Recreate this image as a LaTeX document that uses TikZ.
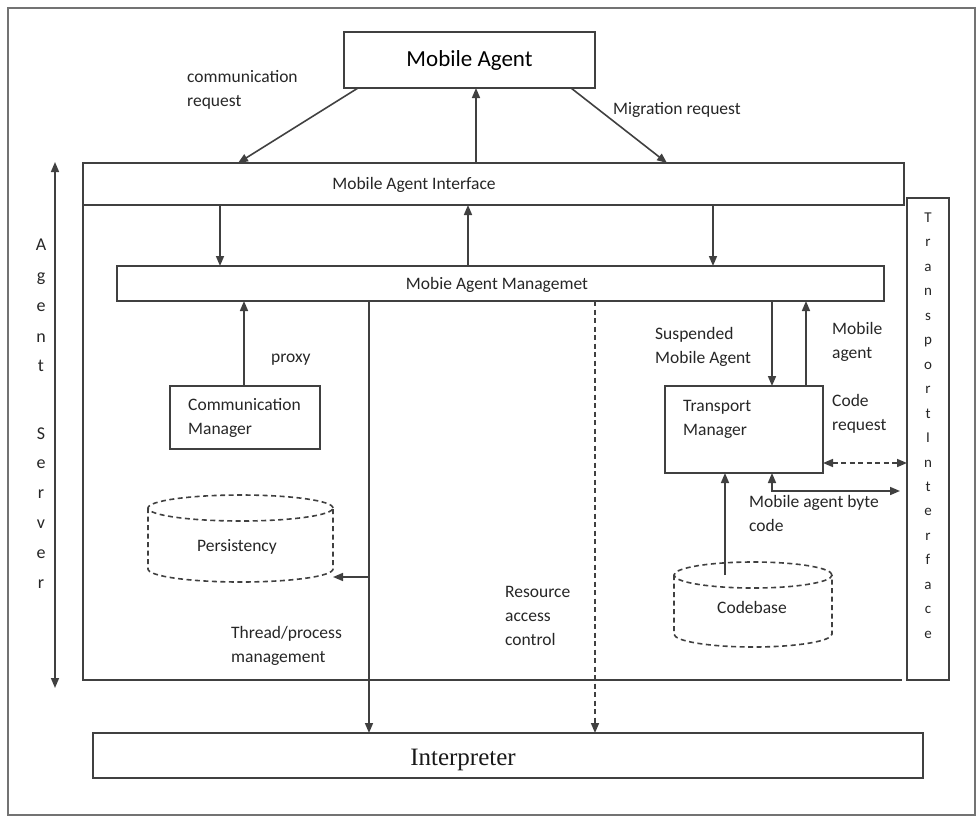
\documentclass[tikz,border=0pt]{standalone}
\usepackage{fontspec}
\setmainfont{Carlito}
\newfontfamily\interpfont{Liberation Serif}
\usetikzlibrary{arrows.meta}
\begin{document}
\begin{tikzpicture}[x=1pt,y=-1pt,
  line/.style={draw=black!75, line width=1.6pt},
  box/.style={line, rectangle, inner sep=0pt, outer sep=0pt},
  ghost/.style={rectangle, inner sep=0pt, outer sep=0pt},
  arr/.style={line, -{Triangle[length=10pt,width=8pt]}},
  darr/.style={line, {Triangle[length=10pt,width=8pt]}-{Triangle[length=10pt,width=8pt]}},
  dashline/.style={dash pattern=on 5pt off 3.5pt},
  lbl/.style={font=\fontsize{17.5}{24}\selectfont, text=black!85, align=left, inner sep=0pt, anchor=west},
  barlbl/.style={font=\fontsize{17.5}{24}\selectfont, text=black!85, inner sep=0pt},
  letter/.style={font=\fontsize{18}{18}\selectfont, text=black!85, inner sep=0pt, anchor=base},
  tletter/.style={font=\fontsize{15}{15}\selectfont, text=black!85, inner sep=0pt, anchor=base},
]
\useasboundingbox (0,0) rectangle (976,817);
% outer frame
\draw[draw=black!55, line width=1.6pt] (8,8) rectangle (975,815);

% main blocks
\node[box, minimum width=251, minimum height=56] (ma) at (469.5,60)
  {\fontsize{23}{28}\selectfont Mobile Agent};
\node[box, minimum width=821, minimum height=42] (iface) at (493.5,184) {};
\node[barlbl] (ifacetxt) at (414,185) {Mobile Agent Interface};
\node[box, minimum width=767, minimum height=35] (mgmt) at (500.5,283.5) {};
\node[barlbl] (mgmttxt) at (497,285) {Mobie Agent Managemet};
\node[box, minimum width=150, minimum height=63] (cm) at (245,417.5) {};
\node[lbl] (cmtxt) at (188,418) {Communication\\Manager};
\node[box, minimum width=158, minimum height=87] (tm) at (744,429.5) {};
\node[lbl] (tmtxt) at (683,419.5) {Transport\\Manager};
\node[box, minimum width=42, minimum height=482] (tif) at (928,439) {};
\node[box, minimum width=830, minimum height=45] (interp) at (508,755.5) {};
\node[inner sep=0pt, text=black!90] (interptxt) at (463,760)
  {\interpfont\fontsize{25}{30}\selectfont Interpreter};

% agent server frame below the interface bar
\coordinate (asbl) at (83,680);
\coordinate (asbr) at (902,680);
\draw[line] (iface.south west) -- (asbl) -- (asbr);

% storage cylinders
\node[ghost, minimum width=185, minimum height=74] (pers) at (240.5,545) {};
\node[inner sep=0pt, font=\fontsize{17.5}{24}\selectfont, text=black!85] (perstxt) at (237,547) {Persistency};
\draw[line, dashline] (240.5,508) ellipse [x radius=92.5pt, y radius=13pt];
\draw[line, dashline] (148,508) -- (148,569)
  arc[start angle=180, end angle=360, x radius=92.5pt, y radius=13pt] -- (333,508);

\node[ghost, minimum width=158, minimum height=72] (cb) at (753,611) {};
\node[inner sep=0pt, font=\fontsize{17.5}{24}\selectfont, text=black!85] (cbtxt) at (752,607) {Codebase};
\draw[line, dashline] (753,575) ellipse [x radius=79pt, y radius=13pt];
\draw[line, dashline] (674,575) -- (674,634)
  arc[start angle=180, end angle=360, x radius=79pt, y radius=13pt] -- (832,575);

% reference columns
\coordinate (c1) at (358,0);
\coordinate (c2) at (238,0);
\coordinate (c3) at (476,0);
\coordinate (c4) at (571,0);
\coordinate (c5) at (667,0);
\coordinate (d1) at (220,0);
\coordinate (d2) at (468,0);
\coordinate (d3) at (713,0);
\coordinate (px) at (244,0);
\coordinate (thx) at (369,0);
\coordinate (rx) at (595,0);
\coordinate (sx) at (772,0);
\coordinate (mx) at (806,0);
\coordinate (cbx) at (725,0);
\coordinate (thr) at (369,577);
\coordinate (creq) at (0,463);
\coordinate (bcknee) at (772,491);
\coordinate (bcend) at (900,491);
\coordinate (ast) at (55,162);
\coordinate (asb) at (55,688);

% Mobile Agent <-> interface
\draw[arr] (ma.south -| c1) -- (iface.north -| c2);
\draw[arr] (iface.north -| c3) -- (ma.south -| c3);
\draw[arr] (ma.south -| c4) -- (iface.north -| c5);

% interface <-> management
\draw[arr] (iface.south -| d1) -- (mgmt.north -| d1);
\draw[arr] (mgmt.north -| d2) -- (iface.south -| d2);
\draw[arr] (iface.south -| d3) -- (mgmt.north -| d3);

% communication manager
\draw[arr] (cm.north -| px) -- (mgmt.south -| px);

% thread / process management
\draw[arr] (mgmt.south -| thx) -- (interp.north -| thx);
\draw[arr] (thr) -- (pers.east |- thr);

% resource access control
\draw[arr, dashline] (mgmt.south -| rx) -- (interp.north -| rx);

% transport manager
\draw[arr] (mgmt.south -| sx) -- (tm.north -| sx);
\draw[arr] (tm.north -| mx) -- (mgmt.south -| mx);
\draw[darr, dashline] (tm.east |- creq) -- (tif.west |- creq);
\draw[darr] (tm.south -| sx) |- (bcend);
\draw[arr] (cb.north -| cbx) -- (tm.south -| cbx);

% agent server extent
\draw[darr] (ast) -- (asb);

% labels
\node[lbl] (l1) at (187,89.5) {communication\\request};
\node[lbl] (l2) at (613,110) {Migration request};
\node[lbl] (l3) at (271,360) {proxy};
\node[lbl] (l4) at (231,645.5) {Thread/process\\management};
\node[lbl] (l5) at (505,616) {Resource\\access\\control};
\node[lbl] (l6) at (655,347) {Suspended\\Mobile Agent};
\node[lbl] (l7) at (832,342) {Mobile\\agent};
\node[lbl] (l8) at (832,413.5) {Code\\request};
\node[lbl] (l9) at (749,513.5) {Mobile agent byte\\code};

% vertical captions
\foreach \ch/\yy [count=\i] in {A/245,g/276,e/306,n/337,t/366,S/434,e/463,r/493,v/523,e/553,r/583}
  \node[letter] (as\i) at (41,\yy+5) {\ch};
\foreach \ch [count=\i] in {T,r,a,n,s,p,o,r,t,I,n,t,e,r,f,a,c,e}
  \node[tletter] (ti\i) at (928,{218+24.45*(\i-1)+4.5}) {\ch};
\end{tikzpicture}
\end{document}
